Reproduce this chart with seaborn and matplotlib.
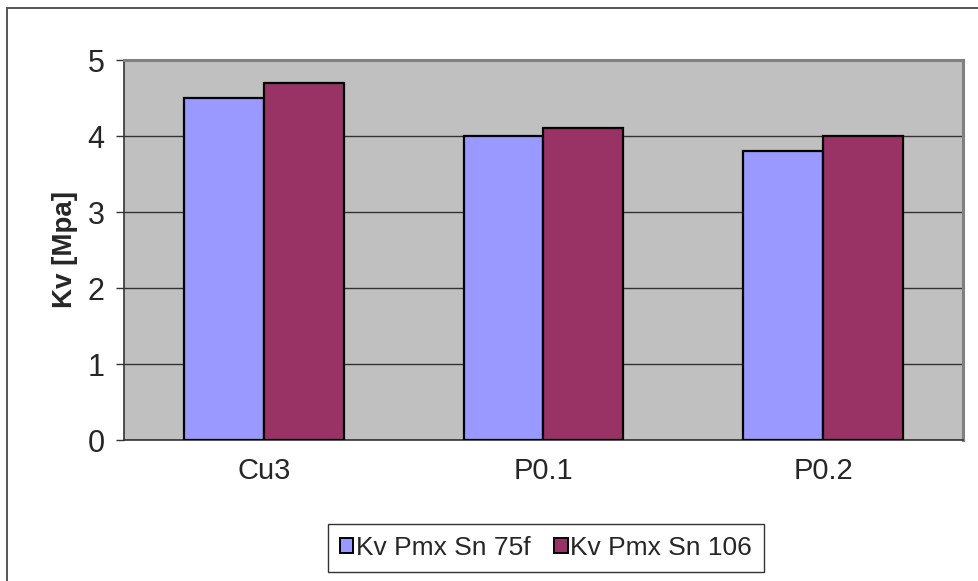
import matplotlib
matplotlib.use("Agg")
import matplotlib.pyplot as plt
import seaborn as sns
import pandas as pd
from matplotlib.lines import Line2D

categories = ["Cu3", "P0.1", "P0.2"]
series_names = ["Kv Pmx Sn 75f", "Kv Pmx Sn 106"]
values_75f = [4.5, 4.0, 3.8]
values_106 = [4.7, 4.1, 4.0]
y_ticks = [0, 1, 2, 3, 4, 5]
colors = ["#9999FF", "#993366"]

df = pd.DataFrame({
    "category": categories * 2,
    "series": [series_names[0]] * 3 + [series_names[1]] * 3,
    "value": values_75f + values_106,
})

sns.set_theme(style="white")
plt.rcParams["font.family"] = ["Liberation Sans", "DejaVu Sans"]

W, H = 979, 581
fig = plt.figure(figsize=(W / 100, H / 100), dpi=100)
ax = fig.add_axes([124 / W, (H - 440) / H, 839 / W, 380 / H])
ax.set_facecolor("#C0C0C0")

sns.barplot(data=df, x="category", y="value", hue="series", palette=colors,
            width=0.572, gap=0, edgecolor="black", linewidth=1.6,
            saturation=1, ax=ax, legend=False, zorder=3)

ax.set_ylim(0, 5)
ax.set_xlim(-0.5, 2.5)
ax.set_yticks(y_ticks)
ax.set_yticklabels([str(t) for t in y_ticks], fontsize=22)
ax.yaxis.grid(True, color="#333333", linewidth=1.0, zorder=0)
ax.set_axisbelow(True)

# category labels centred, tick marks on group boundaries
ax.set_xticks(range(len(categories)))
ax.set_xticklabels(categories, fontsize=21)
ax.set_xticks([-0.5, 0.5, 1.5, 2.5], minor=True)
ax.tick_params(axis="x", which="major", length=0, pad=12)
ax.tick_params(axis="x", which="minor", length=6, width=1, color="#333333", direction="out")
ax.tick_params(axis="y", length=6, width=1, color="#333333", direction="out", left=True, pad=8)
ax.set_xlabel("")
ax.set_ylabel("Kv [Mpa]", fontsize=20, fontweight="bold", labelpad=7)

for side in ["top", "right"]:
    ax.spines[side].set_color("#808080")
    ax.spines[side].set_linewidth(2.2)
ax.spines["left"].set_color("#333333")
ax.spines["left"].set_linewidth(1.2)
ax.spines["bottom"].set_color("#333333")
ax.spines["bottom"].set_linewidth(1.2)

# outer chart frame (left and top edges)
fig.add_artist(Line2D([7 / W, 7 / W], [0, 1 - 8 / H], color="#555555", linewidth=1.4))
fig.add_artist(Line2D([7 / W, 1], [1 - 8 / H, 1 - 8 / H], color="#555555", linewidth=1.4))

handles = [plt.Rectangle((0, 0), 1, 1, facecolor=c, edgecolor="black", linewidth=1.4)
           for c in colors]
leg = fig.legend(handles, series_names, loc="center",
                 bbox_to_anchor=(546 / W, 1 - 548 / H), ncol=2, fontsize=19,
                 frameon=True, fancybox=False, handlelength=0.5, handleheight=0.5,
                 handletextpad=0.1, columnspacing=0.9, borderpad=0.45)
leg.get_frame().set_edgecolor("black")
leg.get_frame().set_linewidth(1.0)

fig.savefig("out.png", dpi=100, facecolor="white")
